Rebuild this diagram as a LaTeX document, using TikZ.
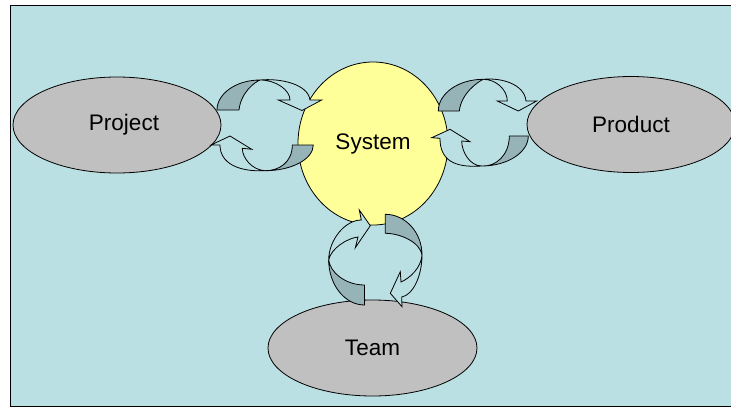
\documentclass[tikz,border=0pt]{standalone}
\usepackage{fontspec}
\setmainfont{Liberation Sans}
\usepackage{tikz}
\usetikzlibrary{shapes.geometric}
\definecolor{bgcyan}{RGB}{187,224,227}
\definecolor{bubblegray}{RGB}{192,192,192}
\definecolor{sysyellow}{RGB}{255,255,153}
\definecolor{arrowshade}{RGB}{150,180,184}

\tikzset{
  bubble/.style={ellipse, draw=black, line width=0.8pt, fill=bubblegray, inner sep=0pt,
    minimum width=208pt, minimum height=96pt, font=\fontsize{22.5}{27}\selectfont},
  shadeface/.style={draw=black, line width=0.8pt, fill=arrowshade, line join=round},
  lightface/.style={draw=black, line width=0.8pt, fill=bgcyan, line join=miter},
}

\begin{document}
\begin{tikzpicture}[x=1pt,y=-1pt]

\useasboundingbox (0,0) rectangle (731,407);
\draw[fill=bgcyan, line width=0.9pt] (10,5) rectangle (745,406);

% the four parts
\node[bubble] (project) at (117,125) {\hspace*{14pt}Project};
\node[bubble, fill=sysyellow, minimum width=150pt, minimum height=163pt] (system) at (373,143.5) {System};
\node[bubble] (product) at (631,124.5) {Product};
\node[bubble, minimum width=209pt] (team) at (372.5,348) {Team};

% project and system
{
\draw[shadeface] (217,110) .. controls (217,93.5) and (236.4,80) .. (260,80)
  .. controls (255,82) and (241,92) .. (239,110) -- cycle;
\draw[lightface] (260,80) .. controls (280,78) and (308,84) .. (310,100)
  -- (321.7,100) -- (302,110.5) -- (278.3,100) -- (290,100)
  .. controls (290,90) and (276,80) .. (260,80) -- cycle;

\draw[shadeface] (313.3,145) .. controls (313.3,159.1) and (291.6,170.7) .. (265,170.7)
  .. controls (278,171) and (292.3,163) .. (292.3,145) -- cycle;
\draw[lightface] (265,170.7) .. controls (238,172) and (220,163) .. (220,145)
  -- (211,145) -- (230,136) -- (251.7,149.3) -- (242.3,148.3)
  .. controls (242.3,158) and (252,170) .. (265,170.7) -- cycle;
}

% system and product
{
\draw[shadeface] (438.3,111) .. controls (438.3,93.6) and (458.3,79.3) .. (483.3,79.3)
  .. controls (478.3,81.5) and (461.3,93) .. (459.3,111) -- cycle;
\draw[lightface] (483.3,79.3) .. controls (501.3,77.5) and (524.3,84) .. (526,101)
  -- (536.7,101) -- (518.3,111) -- (497.3,101) -- (507.3,101)
  .. controls (507.3,90) and (496.3,79.3) .. (483.3,79.3) -- cycle;

\draw[shadeface] (528.3,136) .. controls (528.3,152.5) and (507.3,166) .. (481.7,166)
  .. controls (496,167) and (509.3,155) .. (509.3,136) -- cycle;
\draw[lightface] (481.7,166) .. controls (454,168) and (440,160) .. (440,138.3)
  -- (431.7,137.7) -- (450,129.3) -- (470,141.7) -- (461.7,141)
  .. controls (461.7,152) and (470,166) .. (481.7,166) -- cycle;
}

% system and team
{
\draw[shadeface] (364.5,305) .. controls (344.8,305) and (328.7,284.75) .. (328.7,260)
  .. controls (330,272) and (345,285) .. (364.5,285) -- cycle;
\draw[lightface] (328.7,260) .. controls (328.7,240) and (345,220) .. (361.3,220)
  -- (359.3,210) -- (370.3,225.7) -- (355.3,247.7) -- (358,237)
  .. controls (348,238) and (331,248) .. (328.7,260) -- cycle;

\draw[shadeface] (385.3,214.3) .. controls (405.5,214.3) and (422,232.6) .. (422,255)
  .. controls (420,242) and (400,233.3) .. (385.3,233.3) -- cycle;
\draw[lightface] (422,255) .. controls (422,276) and (413,295) .. (401.7,297)
  -- (402,306.7) -- (390.3,293.3) -- (400.3,271.7) -- (401,282)
  .. controls (410,278) and (421,268) .. (422,255) -- cycle;
}

\end{tikzpicture}
\end{document}
